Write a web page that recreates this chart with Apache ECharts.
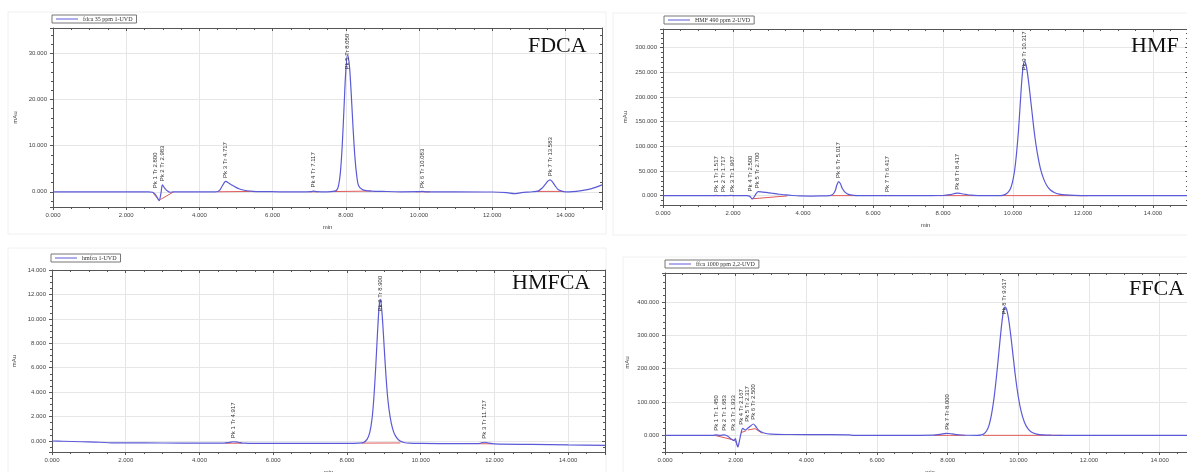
<!DOCTYPE html>
<html><head><meta charset="utf-8">
<script src="https://cdn.jsdelivr.net/npm/echarts@6/dist/echarts.min.js"></script>
<style>html,body{margin:0;padding:0;background:#fff}#c{width:1187px;height:472px}</style>
</head><body><div id="c"></div>
<script>
// ---------------- DATA ----------------
// FDCA
const fdcaTime   = [0,1,2,2.6,2.72,2.8,2.86,2.9,2.95,2.99,3.05,3.12,3.2,3.3,3.6,4.0,4.45,4.55,4.62,4.68,4.72,4.8,4.9,5.0,5.1,5.2,5.3,5.45,5.7,6.2,6.8,7.05,7.12,7.2,7.5,7.65,7.75,7.8,7.85,7.9,7.95,8.0,8.05,8.1,8.15,8.2,8.25,8.3,8.35,8.45,8.55,8.7,9.0,9.5,10.0,10.08,10.2,11.0,12.0,12.4,12.6,12.8,13.1,13.25,13.35,13.45,13.52,13.58,13.64,13.72,13.8,13.9,14.0,14.2,14.4,14.6,14.8,15];
const fdcaSignal = [0,0,0,0,-100,-600,-1400,-1900,-300,1500,800,200,-100,0,0,0,0,300,1200,2000,2250,1900,1400,950,600,380,220,100,40,0,0,50,150,50,0,80,330,1300,4000,9650,18000,26200,29700,27200,21000,13600,7400,3400,1300,500,250,150,80,0,20,80,0,0,-50,-200,-400,-200,0,150,700,1600,2300,2600,2200,1300,500,150,0,50,200,450,900,1500];
const fdcaBaseline = [[[2.72,-100],[2.9,-1900]],[[2.93,-1700],[3.3,0]],[[4.5,0],[5.5,80]],[[7.0,0],[7.25,0]],[[7.6,40],[8.7,150]],[[9.9,0],[10.3,0]],[[13.2,80],[13.95,80]]];
const fdcaPeakTr = [2.800,2.983,4.717,7.117,8.050,10.083,13.583];
const fdcaPeakHeight = [0,1500,2250,150,29700,80,2600];

// HMF
const hmfTime   = [0,1.0,1.45,1.52,1.6,1.7,1.78,1.95,2.05,2.4,2.48,2.55,2.6,2.66,2.72,2.8,2.95,3.1,3.3,3.5,3.7,3.9,4.2,4.5,4.75,4.85,4.92,4.97,5.02,5.07,5.12,5.2,5.3,5.45,5.7,6.0,6.35,6.42,6.5,7.5,8.0,8.2,8.35,8.42,8.5,8.65,8.8,9.0,9.3,9.6,9.7,9.78,9.85,9.92,9.98,10.04,10.1,10.16,10.21,10.25,10.29,10.33,10.37,10.42,10.48,10.55,10.62,10.7,10.78,10.87,10.96,11.06,11.18,11.32,11.5,11.75,12.1,12.3,13,14,15];
const hmfSignal = [0,0,0,400,0,300,0,400,0,0,-1500,-6500,-3000,4000,8000,7800,6500,5000,3200,1500,300,-500,-800,-500,0,2500,10000,22000,28500,24000,15000,7000,2500,700,100,0,0,300,0,0,300,2000,4500,5000,4300,2500,1000,200,0,0,700,2500,6000,13000,26000,48000,85000,135000,190000,232000,262000,272000,266000,245000,210000,165000,122000,84000,56000,35000,21000,12000,6500,3200,1400,500,100,0,0,0,0];
const hmfBaseline = [[[1.45,0],[1.6,0]],[[1.65,0],[1.8,0]],[[1.9,0],[2.05,0]],[[2.53,-6500],[3.55,-600]],[[4.75,0],[5.55,0]],[[6.35,0],[6.5,0]],[[7.9,0],[8.95,0]],[[9.65,0],[12.15,0]]];
const hmfPeakTr = [1.517,1.717,1.967,2.500,2.700,5.017,6.417,8.417,10.317];
const hmfPeakHeight = [400,300,400,1500,8000,28500,300,5000,272000];

// HMFCA
const hmfcaTime   = [0,0.3,0.8,1.3,1.6,2.5,3.5,4.6,4.8,4.92,5.05,5.2,5.4,6.5,7.5,8.2,8.3,8.45,8.55,8.62,8.68,8.73,8.78,8.83,8.87,8.9,8.93,8.97,9.01,9.06,9.11,9.17,9.24,9.32,9.42,9.55,9.7,10.0,11.0,11.55,11.68,11.75,11.85,12.0,13.0,14.0,15];
const hmfcaSignal = [0,-20,-60,-100,-150,-160,-170,-180,-120,-60,-100,-180,-190,-200,-200,-190,-180,-120,150,700,1800,3500,6000,8900,10900,11600,11200,9700,7700,5300,3400,2000,1000,400,50,-120,-180,-200,-220,-220,-120,-100,-170,-230,-280,-320,-350];
const hmfcaBaseline = [[[4.7,-180],[5.15,-180]],[[8.4,-170],[9.45,-160]],[[11.55,-220],[11.95,-230]]];
const hmfcaPeakTr = [4.917,8.900,11.717];
const hmfcaPeakHeight = [-60,11600,-100];

// FFCA
const ffcaTime   = [0,1.0,1.35,1.45,1.55,1.68,1.78,1.88,1.95,1.99,2.03,2.06,2.1,2.15,2.2,2.27,2.33,2.42,2.5,2.56,2.65,2.8,3.0,3.5,4.5,5.2,5.35,6.0,7.0,7.6,7.8,7.95,8.05,8.2,8.4,8.6,8.85,8.95,9.03,9.1,9.17,9.24,9.31,9.38,9.45,9.51,9.56,9.6,9.63,9.67,9.72,9.78,9.85,9.92,10.0,10.08,10.17,10.27,10.38,10.52,10.7,10.95,11.2,15];
const ffcaSignal = [0,0,0,1500,0,1500,-3000,-12000,-16000,-10000,-25000,-35000,-20000,5000,21000,16000,20000,28000,34000,28000,15000,7000,3500,2500,2000,1500,0,0,0,500,3000,6000,5500,3000,1000,200,0,1500,5000,13000,30000,62000,110000,175000,250000,315000,360000,382000,385000,378000,352000,305000,240000,175000,115000,72000,40000,20000,9000,3500,1200,300,0,0];
const ffcaBaseline = [[[1.4,0],[1.95,-14000]],[[1.97,-12000],[2.06,-33000]],[[2.15,8000],[2.3,14000]],[[2.35,16000],[2.55,20000],[2.75,6000]],[[7.6,0],[8.5,0]],[[9.0,0],[11.25,0]]];
const ffcaPeakTr = [1.450,1.683,1.933,2.167,2.317,2.500,8.000,9.617];
const ffcaPeakHeight = [3000,3000,3000,21000,30000,36000,6000,385000];

const xTickLabels = ['0.000','2.000','4.000','6.000','8.000','10.000','12.000','14.000'];

// ---------------- LAYOUT / STYLE ----------------
const panels = [
  {name:'fdca 35 ppm 1-UVD', title:'FDCA', time:fdcaTime, signal:fdcaSignal, base:fdcaBaseline, tr:fdcaPeakTr, h:fdcaPeakHeight,
   grid:{left:53, top:28, width:549, height:179}, ymin:-3300, ymax:35500, ysplit:4, yminor:5, showMax:false,
   legend:{left:52, top:15}, titlePos:{left:528, top:35}, frame:[8,12,598,222]},
  {name:'HMF 490 ppm 2-UVD', title:'HMF', time:hmfTime, signal:hmfSignal, base:hmfBaseline, tr:hmfPeakTr, h:hmfPeakHeight,
   grid:{left:663, top:29, width:525, height:176}, ymin:-19000, ymax:338000, ysplit:7, yminor:5, showMax:false,
   legend:{left:664, top:16}, titlePos:{left:1131, top:35}, frame:[613,13,580,222]},
  {name:'hmfca 1-UVD', title:'HMFCA', time:hmfcaTime, signal:hmfcaSignal, base:hmfcaBaseline, tr:hmfcaPeakTr, h:hmfcaPeakHeight,
   grid:{left:52, top:270, width:553, height:182}, ymin:-900, ymax:14000, ysplit:7, yminor:4, showMax:true,
   legend:{left:51, top:254}, titlePos:{left:512, top:272}, frame:[8,248,598,230]},
  {name:'ffca 1000 ppm 2,2-UVD', title:'FFCA', time:ffcaTime, signal:ffcaSignal, base:ffcaBaseline, tr:ffcaPeakTr, h:ffcaPeakHeight,
   grid:{left:665, top:273, width:530, height:179}, ymin:-50000, ymax:487000, ysplit:5, yminor:5, showMax:false,
   legend:{left:665, top:260}, titlePos:{left:1129, top:278}, frame:[623,257,580,230]}
];

const BLUE = '#5a5ad8', RED = '#e05a5a', AX = '#555', GRIDC = '#e6e6e6';
const labelFont = {fontSize:6, color:'#444', fontFamily:'Liberation Sans'};

const grids = [], xAxes = [], yAxes = [], series = [], legends = [], titles = [], graphics = [];
panels.forEach((p, i) => {
  grids.push(Object.assign({containLabel:false, outerBoundsMode:'none'}, p.grid));
  graphics.push({type:'rect', shape:{x:p.frame[0], y:p.frame[1], width:p.frame[2], height:p.frame[3]}, style:{fill:'none', stroke:'#f0f0f0', lineWidth:1}, silent:true, z:-10});
  xAxes.push({gridIndex:i, type:'value', min:0, max:15, interval:2,
    axisLine:{show:true, onZero:false, lineStyle:{color:AX, width:1}},
    axisTick:{show:true, length:3, lineStyle:{color:AX}},
    minorTick:{show:true, splitNumber:4, length:2, lineStyle:{color:AX}},
    splitLine:{show:true, lineStyle:{color:GRIDC, width:1}},
    axisLabel:{show:true, margin:5, showMaxLabel:false, formatter:v => xTickLabels[v/2] || '', ...labelFont},
    name:'min', nameLocation:'middle', nameGap:17, nameTextStyle:{fontSize:6, color:'#444'}});
  xAxes.push({gridIndex:i, type:'value', min:0, max:15, interval:2, position:'top',
    axisLine:{show:true, onZero:false, lineStyle:{color:AX}},
    axisTick:{show:true, inside:true, length:3, lineStyle:{color:AX}},
    minorTick:{show:true, splitNumber:4, length:2, lineStyle:{color:AX}},
    splitLine:{show:false}, axisLabel:{show:false}});
  yAxes.push({gridIndex:i, type:'value', min:p.ymin, max:p.ymax, splitNumber:p.ysplit,
    axisLine:{show:true, onZero:false, lineStyle:{color:AX, width:1}},
    axisTick:{show:true, length:3, lineStyle:{color:AX}},
    minorTick:{show:true, splitNumber:p.yminor, length:2, lineStyle:{color:AX}},
    splitLine:{show:true, lineStyle:{color:GRIDC, width:1}},
    axisLabel:{show:true, margin:6, showMinLabel:false, showMaxLabel:p.showMax, formatter:v => (v/1000).toFixed(3), ...labelFont},
    name:'mAu', nameLocation:'middle', nameGap:35, nameRotate:90, nameTextStyle:{fontSize:6, color:'#444'}});
  yAxes.push({gridIndex:i, type:'value', min:p.ymin, max:p.ymax, splitNumber:p.ysplit, position:'right',
    axisLine:{show:true, onZero:false, lineStyle:{color:AX}},
    axisTick:{show:true, inside:true, length:3, lineStyle:{color:AX}},
    minorTick:{show:true, splitNumber:p.yminor, length:2, lineStyle:{color:AX}},
    splitLine:{show:false}, axisLabel:{show:false}});

  series.push({type:'line', name:p.name, xAxisIndex:2*i, yAxisIndex:2*i,
    data:p.time.map((t,k)=>[t, p.signal[k]]), showSymbol:false, smooth:0.3,
    lineStyle:{color:BLUE, width:1.2}, itemStyle:{color:BLUE}, z:3, clip:true});
  series.push({type:'lines', coordinateSystem:'cartesian2d', xAxisIndex:2*i, yAxisIndex:2*i, polyline:true,
    data:p.base.map(seg => ({coords:seg})), lineStyle:{color:RED, width:1, opacity:1}, z:2, silent:true});
  const span = p.ymax - p.ymin;
  const limit = p.ymax - span * 45 / p.grid.height;
  series.push({type:'scatter', xAxisIndex:2*i, yAxisIndex:2*i, symbol:'circle', symbolSize:1,
    itemStyle:{color:'rgba(0,0,0,0)'}, silent:true, z:5,
    data:p.tr.map((t,k)=>({name:'Pk ' + (k+1) + ' Tr ' + t.toFixed(3), value:[t, Math.min(p.h[k], limit)]})),
    label:{show:true, formatter:'{b}', position:'top', distance:3, rotate:90, align:'left', verticalAlign:'middle',
      fontSize:6, color:'#333', opacity:1, fontFamily:'Liberation Sans'}});

  legends.push({data:[p.name], left:p.legend.left, top:p.legend.top, orient:'horizontal',
    icon:'rect', itemWidth:22, itemHeight:1, itemGap:4, padding:[1,4,1,4],
    borderColor:'#777', borderWidth:1, backgroundColor:'#fff',
    textStyle:{fontSize:6, color:'#333', fontFamily:'Liberation Serif'}, selectedMode:false});
  titles.push({text:p.title, left:p.titlePos.left, top:p.titlePos.top, padding:0,
    textStyle:{fontFamily:'Liberation Serif', fontSize:22, fontWeight:'normal', color:'#111'}});
});

const chart = echarts.init(document.getElementById('c'), null, {renderer:'canvas'});
chart.setOption({
  animation:false, backgroundColor:'#fff',
  title:titles, legend:legends, grid:grids, xAxis:xAxes, yAxis:yAxes, series:series, graphic:graphics
});
</script></body></html>
